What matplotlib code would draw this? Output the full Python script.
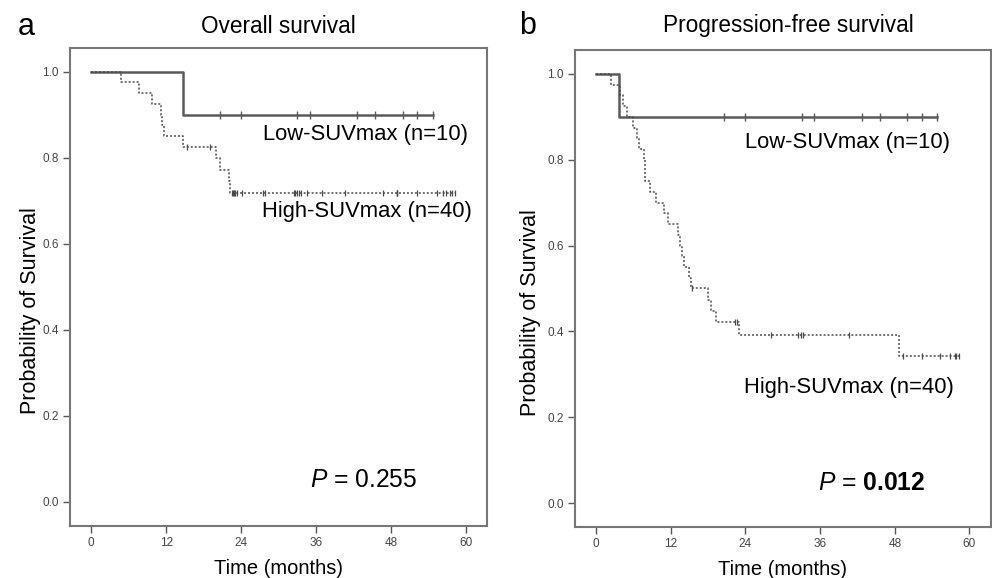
import numpy as np
import matplotlib
matplotlib.use("Agg")
import matplotlib.pyplot as plt

plt.rcParams['font.family'] = ['Liberation Sans', 'DejaVu Sans']
plt.rcParams['mathtext.fontset'] = 'custom'
plt.rcParams['mathtext.rm'] = 'Liberation Sans'
plt.rcParams['mathtext.it'] = 'Liberation Sans:italic'
plt.rcParams['mathtext.bf'] = 'Liberation Sans:bold'

# ---- data (months), event=1 death/progression, 0 censored ----
# overall survival
os_low_t = [14.7, 20.6, 24.0, 32.9, 35.0, 42.6, 45.5, 49.9, 52.2, 54.7]
os_low_e = [1, 0, 0, 0, 0, 0, 0, 0, 0, 0]
os_high_t = [4.7, 7.7, 9.8, 11.1, 11.35, 11.6, 14.7, 15.4, 19.0,
             20.0, 20.6, 22.0, 22.2,
             22.5, 22.7, 22.9, 23.0, 23.3, 24.1, 27.5, 27.8, 32.5, 32.7,
             32.9, 33.3, 33.6, 34.6, 36.9, 40.6, 46.8, 48.9, 48.95, 49.0,
             52.1, 55.3, 56.4, 56.9, 57.5, 57.8, 58.2]
os_high_e = [1, 1, 1, 1, 1, 1, 1, 0, 0,
             1, 1, 1, 1] + [0] * 27

# progression-free survival
pfs_low_t = [3.6, 20.6, 24.0, 33.1, 35.0, 42.7, 45.6, 50.0, 52.4, 54.8]
pfs_low_e = [1, 0, 0, 0, 0, 0, 0, 0, 0, 0]
pfs_high_t = [2.4, 3.8, 4.3, 4.9, 6.0, 6.5, 6.9, 7.7, 7.8, 7.9,
              8.7, 9.6, 10.9, 11.6, 13.1, 13.5, 13.8, 14.1, 15.0, 15.3,
              15.4, 18.0, 18.5, 19.2, 22.4, 22.6, 23.0,
              28.1, 32.5, 33.0, 33.3, 40.7, 48.7,
              49.3, 52.3, 55.2, 56.8, 57.6, 57.9, 58.3]
pfs_high_e = [1] * 20 + [0, 1, 1, 1, 0, 0, 1,
                         0, 0, 0, 0, 0, 1,
                         0, 0, 0, 0, 0, 0, 0]

xticks = [0, 12, 24, 36, 48, 60]
yticks = [0.0, 0.2, 0.4, 0.6, 0.8, 1.0]


def km(times, events):
    t = np.array(times, float)
    e = np.array(events, int)
    order = np.argsort(t, kind='stable')
    t, e = t[order], e[order]
    n = len(t)
    s = 1.0
    xs, ys = [0.0], [1.0]
    cx, cy = [], []
    for i in range(n):
        at_risk = n - i
        if e[i] == 1:
            s = s * (at_risk - 1) / at_risk
            xs.append(t[i])
            ys.append(s)
        else:
            cx.append(t[i])
            cy.append(s)
    xs.append(t[-1])
    ys.append(s)
    return xs, ys, cx, cy


def draw(ax, low, high, ylab_x):
    gray = '#5a5a5a'
    x, y, cx, cy = km(*low)
    ax.step(x, y, where='post', color=gray, lw=1.8)
    ax.plot(cx, cy, ls='none', marker='|', ms=6, mew=1.0, color=gray)
    x, y, cx, cy = km(*high)
    ax.step(x, y, where='post', color='#4a4a4a', lw=1.1, ls=(0, (1.3, 1.3)))
    ax.plot(cx, cy, ls='none', marker='|', ms=5, mew=0.9, color='#4a4a4a')
    ax.set_xlim(-3.4, 63.4)
    ax.set_ylim(-0.056, 1.055)
    ax.set_xticks(xticks)
    ax.set_yticks(yticks)
    ax.set_xticklabels([str(v) for v in xticks], fontsize=8.5)
    ax.set_yticklabels(['%.1f' % v for v in yticks], fontsize=8.5)
    ax.tick_params(length=5, width=1, color='#555555', labelcolor='#444444', pad=3)
    for sp in ax.spines.values():
        sp.set_color('#777777')
        sp.set_linewidth(1.5)
    ax.set_ylabel('Probability of Survival', fontsize=15.5, va='center')
    ax.yaxis.set_label_coords(ylab_x, 0.45)
    ax.set_xlabel('Time (months)', fontsize=14.5, va='center')
    ax.xaxis.set_label_coords(0.5, -0.088)


fig = plt.figure(figsize=(9.92, 5.78), dpi=100)
ax1 = fig.add_axes([0.0706, 0.090, 0.4204, 0.827])
ax2 = fig.add_axes([0.5796, 0.088, 0.419, 0.825])

draw(ax1, (os_low_t, os_low_e), (os_high_t, os_high_e), -0.094)
draw(ax2, (pfs_low_t, pfs_low_e), (pfs_high_t, pfs_high_e), -0.106)

ax1.text(27.5, 0.853, 'Low-SUVmax (n=10)', fontsize=15.8, va='center')
ax1.text(27.4, 0.675, 'High-SUVmax (n=40)', fontsize=15.8, va='center')
ax1.text(35.0, 0.051, r'$P$ = 0.255', fontsize=17.7, va='center')
ax1.text(0.499, 1.044, 'Overall survival', fontsize=16.3, ha='center', va='center',
         transform=ax1.transAxes)

ax2.text(24.0, 0.839, 'Low-SUVmax (n=10)', fontsize=15.8, va='center')
ax2.text(23.8, 0.27, 'High-SUVmax (n=40)', fontsize=15.8, va='center')
ax2.text(35.7, 0.047, r'$P$ = $\mathbf{0.012}$', fontsize=17.7, va='center')
ax2.text(0.514, 1.052, 'Progression-free survival', fontsize=16.3, ha='center',
         va='center', transform=ax2.transAxes)

fig.text(0.026, 0.953, 'a', fontsize=22, ha='center', va='center')
fig.text(0.532, 0.955, 'b', fontsize=22, ha='center', va='center')

fig.savefig('out.png', dpi=100)
